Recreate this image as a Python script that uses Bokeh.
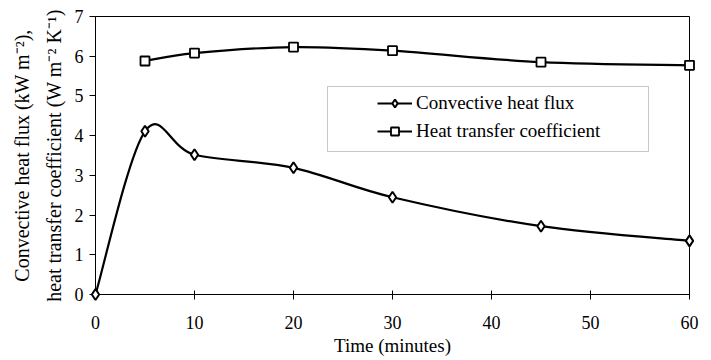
from bokeh.plotting import figure
from bokeh.models import (Range1d, LinearAxis, FixedTicker, Legend, LegendItem,
                          BoxAnnotation)
from bokeh.embed import file_html
from bokeh.resources import INLINE

# Measurements over the run
time_min = [0, 5, 10, 20, 30, 45, 60]
heat_flux = [0.0, 4.11, 3.52, 3.19, 2.45, 1.72, 1.35]          # kW m^-2
coef_time = [5, 10, 20, 30, 45, 60]
heat_coef = [5.88, 6.08, 6.23, 6.14, 5.85, 5.77]               # W m^-2 K^-1

x_ticks = [0, 10, 20, 30, 40, 50, 60]
y_ticks = [0, 1, 2, 3, 4, 5, 6, 7]

FONT = "Liberation Serif"


def smooth_segments(xs, ys, tension=1.0 / 6.0):
    """Cubic Bezier pieces (Catmull-Rom style) passing through every point."""
    n = len(xs)
    seg = {k: [] for k in ("x0", "y0", "x1", "y1", "cx0", "cy0", "cx1", "cy1")}
    for i in range(n - 1):
        a = i - 1 if i > 0 else i
        b = i + 2 if i + 2 < n else i + 1
        seg["x0"].append(xs[i])
        seg["y0"].append(ys[i])
        seg["x1"].append(xs[i + 1])
        seg["y1"].append(ys[i + 1])
        seg["cx0"].append(xs[i] + (xs[i + 1] - xs[a]) * tension)
        seg["cy0"].append(ys[i] + (ys[i + 1] - ys[a]) * tension)
        seg["cx1"].append(xs[i + 1] - (xs[b] - xs[i]) * tension)
        seg["cy1"].append(ys[i + 1] - (ys[b] - ys[i]) * tension)
    return seg


p = figure(width=711, height=360, output_backend="svg", toolbar_location=None,
           x_range=Range1d(0, 60), y_range=Range1d(0, 7),
           min_border_left=95, min_border_right=22,
           min_border_top=16, min_border_bottom=66,
           background_fill_color="white", border_fill_color="white")

p.xgrid.visible = False
p.ygrid.visible = False
p.outline_line_color = "black"
p.outline_line_width = 1
p.outline_line_alpha = 1

# x axis
xa = p.xaxis[0]
xa.ticker = FixedTicker(ticks=x_ticks)
xa.axis_label = "Time (minutes)"
xa.axis_label_text_font = FONT
xa.axis_label_text_font_size = "19px"
xa.axis_label_text_font_style = "normal"
xa.axis_label_text_color = "black"
xa.axis_label_standoff = 3
xa.major_label_text_font = FONT
xa.major_label_text_font_size = "18px"
xa.major_label_text_color = "black"
xa.major_label_standoff = 16
xa.major_tick_in = 4
xa.major_tick_out = 5
xa.minor_tick_line_color = None
xa.axis_line_color = "black"
xa.major_tick_line_color = "black"

# y axis (second title line sits next to the tick labels)
ya = p.yaxis[0]
ya.ticker = FixedTicker(ticks=y_ticks)
ya.axis_label = "heat transfer coefficient (W m\u207b\u00b2 K\u207b\u00b9)"
ya.axis_label_text_font = FONT
ya.axis_label_text_font_size = "20px"
ya.axis_label_text_font_style = "normal"
ya.axis_label_text_color = "black"
ya.axis_label_standoff = 7
ya.major_label_text_font = FONT
ya.major_label_text_font_size = "18px"
ya.major_label_text_color = "black"
ya.major_label_standoff = 6
ya.major_tick_in = 0
ya.major_tick_out = 6
ya.minor_tick_line_color = None
ya.axis_line_color = "black"
ya.major_tick_line_color = "black"

# first title line, carried by a bare outer axis
title_axis = LinearAxis(ticker=FixedTicker(ticks=[]),
                        axis_label="Convective heat flux (kW m\u207b\u00b2),",
                        axis_label_text_font=FONT, axis_label_text_font_size="20px",
                        axis_label_text_font_style="normal", axis_label_text_color="black",
                        axis_label_standoff=7, axis_line_color=None,
                        major_tick_line_color=None, minor_tick_line_color=None,
                        major_tick_out=0, minor_tick_out=0, major_label_standoff=0)
p.add_layout(title_axis, "left")

# smoothed curves through the measured points
flux_seg = smooth_segments(time_min, heat_flux)
coef_seg = smooth_segments(coef_time, heat_coef)

flux_curve = p.bezier(source=flux_seg, x0="x0", y0="y0", x1="x1", y1="y1",
                      cx0="cx0", cy0="cy0", cx1="cx1", cy1="cy1",
                      line_color="black", line_width=2.2)
coef_curve = p.bezier(source=coef_seg, x0="x0", y0="y0", x1="x1", y1="y1",
                      cx0="cx0", cy0="cy0", cx1="cx1", cy1="cy1",
                      line_color="black", line_width=2.2)

flux_pts = p.scatter(time_min, heat_flux, marker="diamond", size=11,
                     fill_color="white", line_color="black", line_width=2,
                     level="overlay")
coef_pts = p.scatter(coef_time, heat_coef, marker="square", size=9,
                     fill_color="white", line_color="black", line_width=1.8,
                     level="overlay")

# legend frame and entries
legend_box = BoxAnnotation(left=232, right=553, top=208, bottom=143,
                           left_units="screen", right_units="screen",
                           top_units="screen", bottom_units="screen",
                           fill_color="white", fill_alpha=1,
                           line_color="#444444", line_width=1)
p.add_layout(legend_box)

legend = Legend(items=[LegendItem(label="Convective heat flux", renderers=[flux_curve, flux_pts]),
                       LegendItem(label="Heat transfer coefficient", renderers=[coef_curve, coef_pts])],
                location=(282, 152), padding=0, spacing=6, margin=0,
                glyph_width=35, glyph_height=20, label_standoff=4,
                border_line_color=None, background_fill_alpha=0,
                label_text_font=FONT, label_text_font_size="19px",
                label_text_color="black")
p.add_layout(legend)

open("out.html", "w").write(file_html(p, INLINE))
